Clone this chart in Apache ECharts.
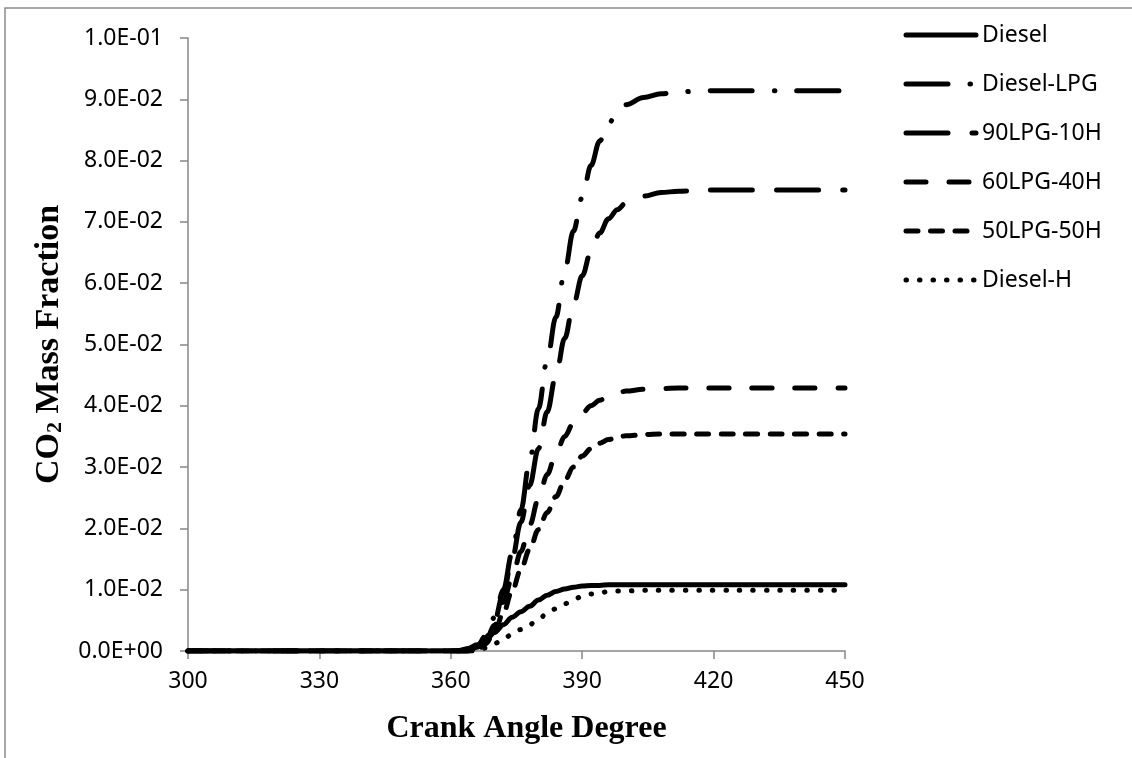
<!DOCTYPE html>
<html>
<head>
<meta charset="utf-8">
<title>CO2 Mass Fraction vs Crank Angle</title>
<script src="https://cdn.jsdelivr.net/npm/echarts@6/dist/echarts.min.js"></script>
<style>
  html, body { margin: 0; padding: 0; background: #ffffff; }
  #chart { width: 1132px; height: 758px; }
</style>
</head>
<body>
<div id="chart"></div>
<script>
// Crank angle sample points (degrees)
const crankAngle = [300, 330, 360, 362, 364, 366, 368, 370, 372, 374, 376, 378, 380, 382, 384, 386, 388, 390, 392, 394, 396, 398, 400, 404, 408, 412, 416, 420, 430, 440, 450];

// CO2 mass fraction for each fuel case
const diesel     = [0, 0, 0, 0.0001, 0.0004, 0.0010, 0.0018, 0.0030, 0.0043, 0.0055, 0.0064, 0.0073, 0.0083, 0.0091, 0.0097, 0.0101, 0.0104, 0.0106, 0.0107, 0.0107, 0.0108, 0.0108, 0.0108, 0.0108, 0.0108, 0.0108, 0.0108, 0.0108, 0.0108, 0.0108, 0.0108];
const dieselLPG  = [0, 0, 0, 0, 0, 0.0008, 0.0025, 0.0055, 0.0100, 0.0160, 0.0230, 0.0310, 0.0395, 0.0475, 0.0545, 0.0620, 0.0685, 0.0740, 0.0792, 0.0832, 0.0860, 0.0879, 0.0891, 0.0903, 0.0909, 0.0912, 0.0913, 0.0914, 0.0914, 0.0914, 0.0914];
const lpg90h10   = [0, 0, 0, 0, 0, 0.0006, 0.0022, 0.0050, 0.0095, 0.0150, 0.0210, 0.0270, 0.0330, 0.0390, 0.0450, 0.0510, 0.0565, 0.0612, 0.0652, 0.0682, 0.0705, 0.0720, 0.0731, 0.0742, 0.0748, 0.0750, 0.0751, 0.0752, 0.0752, 0.0752, 0.0752];
const lpg60h40   = [0, 0, 0, 0, 0, 0.0004, 0.0018, 0.0042, 0.0080, 0.0120, 0.0162, 0.0205, 0.0248, 0.0288, 0.0322, 0.0350, 0.0372, 0.0388, 0.0400, 0.0409, 0.0416, 0.0421, 0.0424, 0.0427, 0.0428, 0.0429, 0.0429, 0.0429, 0.0429, 0.0429, 0.0429];
const lpg50h50   = [0, 0, 0, 0, 0, 0.0002, 0.0012, 0.0032, 0.0062, 0.0098, 0.0133, 0.0166, 0.0198, 0.0226, 0.0252, 0.0278, 0.0300, 0.0318, 0.0330, 0.0339, 0.0345, 0.0349, 0.0351, 0.0353, 0.0354, 0.0354, 0.0354, 0.0354, 0.0354, 0.0354, 0.0354];
const dieselH    = [0, 0, 0, 0, 0, 0, 0.0005, 0.0012, 0.0020, 0.0027, 0.0035, 0.0043, 0.0052, 0.0061, 0.0069, 0.0077, 0.0084, 0.0089, 0.0093, 0.0095, 0.0097, 0.0098, 0.0098, 0.0099, 0.0099, 0.0099, 0.0099, 0.0099, 0.0099, 0.0099, 0.0099];

const seriesNames = ['Diesel', 'Diesel-LPG', '90LPG-10H', '60LPG-40H', '50LPG-50H', 'Diesel-H'];

// Y tick labels in scientific notation, one per 0.01 step
const yTickLabels = ['0.0E+00', '1.0E-02', '2.0E-02', '3.0E-02', '4.0E-02', '5.0E-02', '6.0E-02', '7.0E-02', '8.0E-02', '9.0E-02', '1.0E-01'];

const seriesValues = [diesel, dieselLPG, lpg90h10, lpg60h40, lpg50h50, dieselH];
const dashStyles = ['solid', [42, 22, 0.5, 22], [42, 24], [20, 23], [12, 12.5], [0.5, 13]];

const pairs = (vals) => crankAngle.map((a, i) => [a, vals[i]]);

const chart = echarts.init(document.getElementById('chart'), null, { renderer: 'canvas' });

const labelFont = '"Noto Sans", "Open Sans", sans-serif';
const titleFont = '"Liberation Serif", "Times New Roman", serif';

// Legend drawn as line samples with the same dash patterns as the curves
const legendX = 906, legendTop = 35, legendStep = 49, sampleLen = 70;
const legendGraphics = [];
seriesNames.forEach((name, k) => {
  const y = legendTop + k * legendStep;
  const dash = dashStyles[k];
  legendGraphics.push({
    type: 'line',
    shape: { x1: legendX, y1: y, x2: legendX + sampleLen, y2: y },
    style: {
      stroke: '#000', lineWidth: 5, lineCap: 'round',
      lineDash: dash === 'solid' ? null : dash
    },
    silent: true
  });
  legendGraphics.push({
    type: 'text',
    x: legendX + sampleLen + 6,
    y: y,
    style: {
      text: name, fill: '#000', font: '23px "Noto Sans", "Open Sans", sans-serif',
      verticalAlign: 'middle', align: 'left'
    },
    silent: true
  });
});

chart.setOption({
  backgroundColor: '#ffffff',
  animation: false,
  graphic: [{
    type: 'rect',
    shape: { x: 5, y: 8, width: 1140, height: 770 },
    style: { fill: 'none', stroke: '#8c8c8c', lineWidth: 1.5 },
    silent: true
  }].concat(legendGraphics),
  grid: { left: 188, top: 38, right: 287, bottom: 107, containLabel: false },
  xAxis: {
    type: 'value',
    min: 300,
    max: 450,
    interval: 30,
    name: 'Crank Angle Degree',
    nameLocation: 'middle',
    nameGap: 62,
    nameTextStyle: { fontFamily: titleFont, fontWeight: 'bold', fontSize: 32, color: '#000', padding: [0, 0, 0, 20] },
    axisLine: { lineStyle: { color: '#868686', width: 1.5 } },
    axisTick: { show: true, inside: false, length: 8, lineStyle: { color: '#868686', width: 1.5 } },
    axisLabel: { fontFamily: labelFont, fontSize: 23, color: '#000', margin: 19 },
    splitLine: { show: false }
  },
  yAxis: {
    type: 'value',
    min: 0,
    max: 0.1,
    interval: 0.01,
    name: '{a|CO}{b|2}{a| Mass Fraction}',
    nameLocation: 'middle',
    nameRotate: 90,
    nameGap: 122,
    nameTextStyle: {
      rich: {
        a: { fontFamily: titleFont, fontWeight: 'bold', fontSize: 34, color: '#000', verticalAlign: 'bottom', lineHeight: 40 },
        b: { fontFamily: titleFont, fontWeight: 'bold', fontSize: 22, color: '#000', verticalAlign: 'bottom', lineHeight: 32 }
      }
    },
    axisLine: { show: true, lineStyle: { color: '#868686', width: 1.5 } },
    axisTick: { show: true, inside: false, length: 8, lineStyle: { color: '#868686', width: 1.5 } },
    axisLabel: {
      fontFamily: labelFont, fontSize: 23, color: '#000', margin: 25,
      formatter: (v) => yTickLabels[Math.round(v / 0.01)]
    },
    splitLine: { show: false }
  },
  series: seriesNames.map((name, k) => ({
    name: name,
    type: 'line',
    data: pairs(seriesValues[k]),
    showSymbol: false,
    symbol: 'none',
    smooth: 0.35,
    smoothMonotone: 'x',
    lineStyle: { color: '#000', width: 5, type: dashStyles[k], cap: 'round' },
    itemStyle: { color: '#000' },
    z: 10 - k
  }))
});
</script>
</body>
</html>
